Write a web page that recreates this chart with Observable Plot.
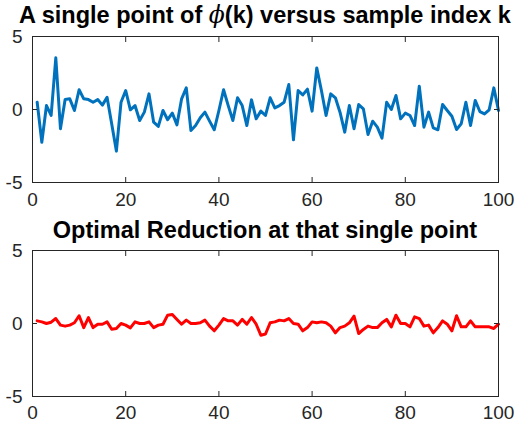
<!DOCTYPE html>
<html><head><meta charset="utf-8">
<script src="https://cdn.jsdelivr.net/npm/d3@7"></script>
<script src="https://cdn.jsdelivr.net/npm/@observablehq/plot@0.6"></script>
<style>
body{margin:0;background:#fff;}
#wrap{position:relative;width:518px;height:421px;overflow:hidden;font-family:"Liberation Sans",Arial,sans-serif;background:#fff;}
.title{position:absolute;left:0;width:530px;text-align:center;font-weight:bold;font-size:23.5px;line-height:26px;color:#000;white-space:nowrap;z-index:2;}
.phi{font-family:"DejaVu Serif","Liberation Serif",serif;font-style:italic;font-weight:normal;}
.panel{position:absolute;left:0;z-index:1;}
</style></head><body>
<div id="wrap">
 <div class="panel" id="p1" style="top:0px"></div>
 <div class="panel" id="p2" style="top:215px"></div>
 <div class="title" id="t1" style="top:2px">A single point of <span class="phi">ϕ</span>(k) versus sample index k</div>
 <div class="title" id="t2" style="top:217px">Optimal Reduction at that single point</div>
</div>
<script>
const sampleIndex = d3.range(1, 101);
const phiValues = [
 0.5, -2.24, 0.27, -0.41, 3.54, -1.32, 0.68, 0.73, -0.07, 1.35,
 0.73, 0.68, 0.5, 0.68, 0.3, 0.84, -1.0, -2.85, 0.5, 1.3,
 -0.02, 0.27, -0.75, -0.18, 1.07, -0.87, -1.16, -0.07, -0.7, -0.25,
 -1.05, 0.73, 1.48, -1.44, -1.1, -0.57, -0.18, -0.8, -1.39, -0.07,
 1.35, 0.27, -0.75, 0.8, 0.27, -1.1, 0.66, -0.64, -0.11, -0.41,
 0.8, 0.11, 0.27, 0.5, 1.71, -2.08, 1.3, 1.0, 1.39, -0.11,
 2.85, 1.3, -0.41, 1.07, 0.8, -0.2, -1.55, 0.27, -1.32, 0.34,
 0.05, -1.71, -0.8, -1.21, -1.96, 0.5, 0, 0.96, -0.64, -0.25,
 -0.41, -1.1, 1.6, -1.21, -0.18, -1.26, -1.39, 0.34, -0.07, -0.46,
 -1.37, -0.98, 0.5, -1.1, 0.62, -0.14, -0.3, -0.02, 1.48, -0.07
];
const reducedValues = [
 0.18, 0.11, 0, 0.09, 0.34, -0.11, -0.18, -0.11, 0.05, 0.53,
 -0.28, 0.41, -0.28, -0.05, -0.05, 0.11, -0.39, -0.34, 0, -0.11,
 -0.3, 0.11, 0, 0, 0.11, -0.28, -0.11, -0.05, 0.57, 0.62,
 0.28, -0.05, 0.23, 0, 0, 0.05, 0.23, -0.18, -0.5, -0.11,
 0.34, 0.18, 0.18, -0.11, 0.28, -0.05, 0.41, -0.05, -0.8, -0.72,
 0.05, 0.11, 0.23, 0.18, 0.34, 0, -0.05, -0.5, -0.28, 0.11,
 0.05, 0.11, 0.05, -0.18, -0.64, -0.28, -0.18, 0.05, 0.5, -0.69,
 -0.41, -0.18, -0.28, -0.28, 0.05, 0.28, -0.23, 0.57, 0, 0,
 -0.23, 0.46, 0.34, -0.18, -0.11, -0.64, -0.28, 0.18, -0.05, -0.5,
 0.53, -0.23, -0.23, 0.18, -0.23, -0.23, -0.23, -0.23, -0.34, -0.05
];
const xTicks = [0, 20, 40, 60, 80, 100];
const yTicks = [-5, 0, 5];
const axisColor = "#262626";

function panel(values, color, height, marginTop, marginBottom, xPad) {
  const rows = values.map((v, i) => ({k: sampleIndex[i], v}));
  return Plot.plot({
    width: 518, height, marginTop, marginBottom, marginLeft: 32, marginRight: 20,
    x: {domain: [0, 100]},
    y: {domain: [-5, 5]},
    style: {fontFamily: '"Liberation Sans", Arial, sans-serif', fontSize: "19px", color: axisColor, background: "transparent", overflow: "visible"},
    marks: [
      Plot.line(rows, {x: "k", y: "v", stroke: color, strokeWidth: 3, strokeLinejoin: "round"}),
      Plot.frame({stroke: axisColor, strokeWidth: 1}),
      Plot.axisX({anchor: "bottom", ticks: xTicks, tickSize: -5, tickPadding: xPad, tickFormat: d => String(d), fontSize: 19, fill: "#262626", label: null}),
      Plot.axisX({anchor: "top", ticks: xTicks, tickSize: -5, tickFormat: () => "", label: null}),
      Plot.axisY({anchor: "left", ticks: yTicks, tickSize: -5, tickPadding: 15, tickFormat: d => String(d), fontSize: 19, fill: "#262626", label: null}),
      Plot.axisY({anchor: "right", ticks: yTicks, tickSize: -5, tickFormat: () => "", label: null})
    ]
  });
}
document.getElementById("p1").append(panel(phiValues, "#0072BD", 215, 36, 33, 15));
document.getElementById("p2").append(panel(reducedValues, "#FF0000", 206, 35, 25, 14));
</script>
</body></html>
